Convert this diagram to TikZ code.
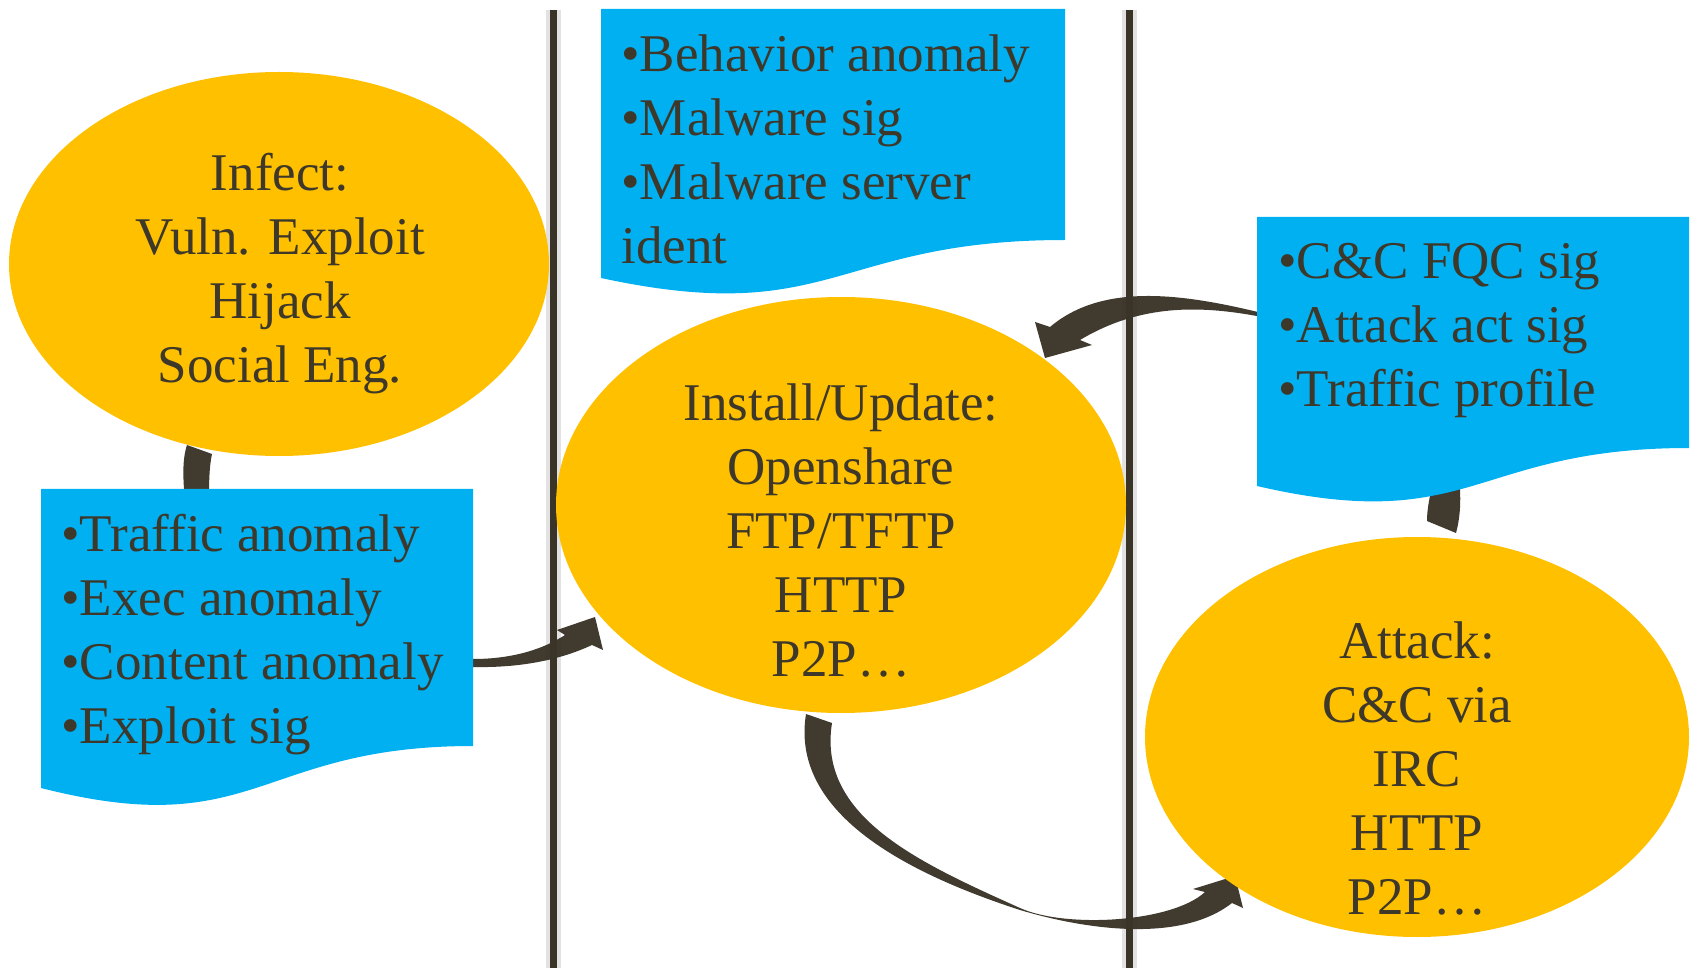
\documentclass[tikz,border=0pt]{standalone}
\usepackage{fontspec}
\setmainfont{Liberation Serif}
\usetikzlibrary{shapes.geometric}
\definecolor{stagegold}{RGB}{255,192,0}
\definecolor{noteblue}{RGB}{0,176,240}
\definecolor{inkdark}{RGB}{62,56,42}
\definecolor{arrowdark}{RGB}{58,52,40}
\definecolor{haze}{RGB}{226,226,226}

\begin{document}
\begin{tikzpicture}[
	x=0.5pt, y=-0.5pt,
	stage/.style={ellipse, fill=stagegold, inner sep=0pt},
	words/.style={inner sep=0pt, text=inkdark, font=\fontsize{26.5}{32}\selectfont},
	blockarrow/.style={fill=arrowdark, opacity=0.97}
	]
	\useasboundingbox (0,0) rectangle (1694,973);

	% phase dividers (halo first, line on top later)
	\draw[haze, line width=7.5pt] (553,10) -- (553,968);
	\draw[haze, line width=7.5pt] (1129.5,10) -- (1129.5,968);

	% curved block arrows
	\fill[blockarrow] (187,445) -- (212,454) .. controls (209,468) and (209,485) .. (209,500) -- (185,500) .. controls (183,480) and (182,460) .. (187,445) -- cycle;
	\fill[blockarrow] (466,659) -- (473,659) .. controls (515,659) and (545,648) .. (565,635) -- (557,630) -- (595,617) -- (603,650) -- (592,645) .. controls (560,660) and (520,668) .. (473,667) -- (466,667) -- cycle;
	\fill[blockarrow] (1262,313) .. controls (1184,294) and (1103,282) .. (1050,327) -- (1035,322) -- (1045,358) -- (1092,345) -- (1080,340) .. controls (1140,304) and (1200,305) .. (1262,317) -- cycle;
	\fill[blockarrow] (806,714) -- (832,723) .. controls (817,817) and (920,863) .. (1020,908) .. controls (1065.5,928.5) and (1172,922.6) .. (1205,892) -- (1193,889) -- (1235,876) -- (1243,908) -- (1232,903) .. controls (1181,943) and (1087,930) .. (1020,910) .. controls (906,873) and (790,813) .. (806,714) -- cycle;
	\fill[blockarrow] (1434,478) .. controls (1430,495) and (1427,508) .. (1427,521) -- (1456,533) .. controls (1461,515) and (1461,495) .. (1459,478) -- cycle;

	\draw[arrowdark, line width=3.5pt] (553,10) -- (553,968);
	\draw[arrowdark, line width=3.5pt] (1129.5,10) -- (1129.5,968);

	% stages
	\node[stage, minimum width=270pt, minimum height=192pt] (infect) at (279,264) {};
	\node[stage, minimum width=285pt, minimum height=208pt] (install) at (841,505) {};
	\node[stage, minimum width=272pt, minimum height=200pt] (attack) at (1417,737) {};

	\node[words, anchor=north, align=center] (infect label) at (280,145) {\strut Infect:\\Vuln. Exploit\\Hijack\\Social Eng.};
	\node[words, anchor=north, align=center] (install label) at (841,375.5) {\strut Install/Update:\\Openshare\\FTP/TFTP\\HTTP\\P2P…};
	\node[words, anchor=north, align=center] (attack label) at (1417,613) {\strut Attack:\\C\&C via\\IRC\\HTTP\\P2P…};

	% detection notes
	\fill[noteblue] (601,9) -- (1065,9) -- (1065,240) .. controls (833,240) and (833,328) .. (601,278) -- cycle;
	\fill[noteblue] (41,489) -- (473,489) -- (473,746) .. controls (257,746) and (257,843) .. (41,788) -- cycle;
	\fill[noteblue] (1257,217) -- (1689,217) -- (1689,448) .. controls (1473,448) and (1473,536) .. (1257,486) -- cycle;

	\node[words, anchor=north west, align=left] (install sigs) at (621,26) {\strut •Behavior anomaly\\•Malware sig\\•Malware server\\ident};
	\node[words, anchor=north west, align=left] (infect sigs) at (61,506) {\strut •Traffic anomaly\\•Exec anomaly\\•Content anomaly\\•Exploit sig};
	\node[words, anchor=north west, align=left] (attack sigs) at (1278,233) {\strut •C\&C FQC sig\\•Attack act sig\\•Traffic profile};

\end{tikzpicture}
\end{document}
